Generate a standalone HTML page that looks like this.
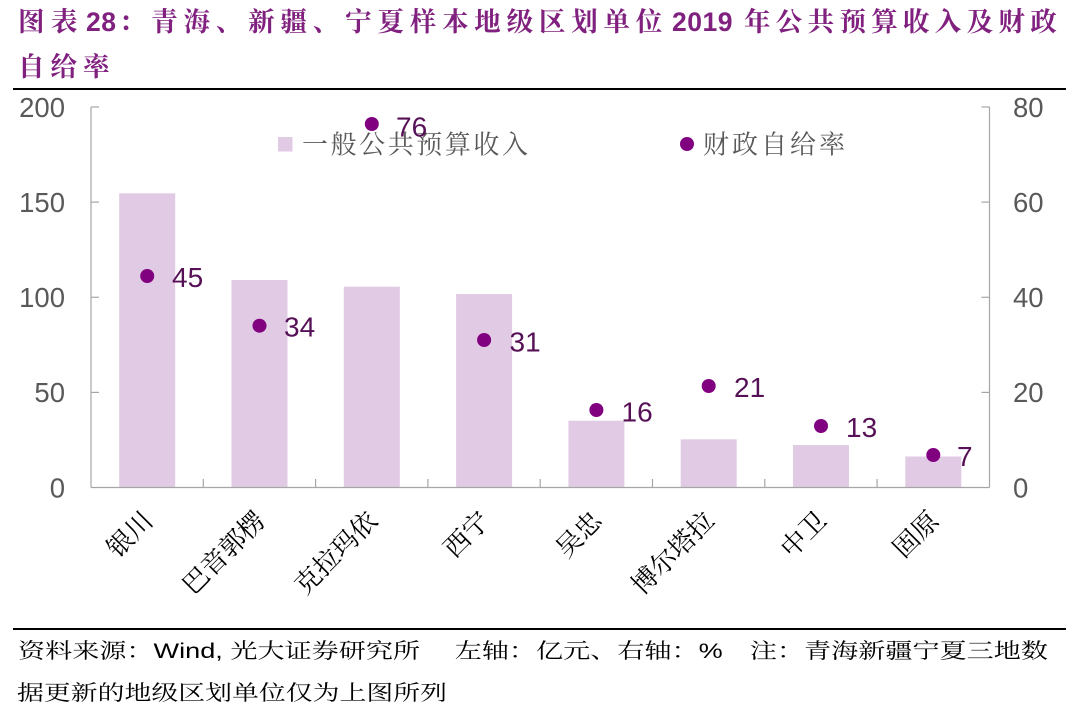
<!DOCTYPE html>
<html>
<head>
<meta charset="utf-8">
<style>
  html, body { margin: 0; padding: 0; background: #ffffff; }
  svg { display: block; }
</style>
</head>
<body>
<svg width="1080" height="719" viewBox="0 0 1080 719" xmlns="http://www.w3.org/2000/svg">
  <rect x="0" y="0" width="1080" height="719" fill="#ffffff"/>

  <!-- Title -->
  <g fill="#80207F" font-family="'Liberation Sans', 'Noto Serif CJK SC', serif" font-weight="bold" font-size="26.5">
    <text y="31"><tspan x="18" letter-spacing="6.5">图表</tspan><tspan x="86" letter-spacing="0.5">28</tspan><tspan x="119" letter-spacing="5.8">：青海、新疆、宁夏样本地级区划单位</tspan><tspan x="672" letter-spacing="0.5">2019</tspan><tspan x="744" letter-spacing="5.3">年公共预算收入及财政</tspan></text>
    <text x="18" y="76" letter-spacing="6">自给率</text>
  </g>
  <line x1="13" y1="89" x2="1066" y2="89" stroke="#000000" stroke-width="2"/>

  <!-- Bars -->
  <g fill="#E1CAE4">
    <rect x="119.2" y="193.3" width="56" height="294.2"/>
    <rect x="231.5" y="280" width="56" height="207.5"/>
    <rect x="343.8" y="286.7" width="56" height="200.8"/>
    <rect x="456.1" y="294" width="56" height="193.5"/>
    <rect x="568.4" y="420.7" width="56" height="66.8"/>
    <rect x="680.7" y="439.3" width="56" height="48.2"/>
    <rect x="793.0" y="445" width="56" height="42.5"/>
    <rect x="905.3" y="456.5" width="56" height="31"/>
  </g>

  <!-- Axes -->
  <g stroke="#A6A6A6" stroke-width="1.2" fill="none">
    <line x1="91" y1="107" x2="91" y2="487.5"/>
    <line x1="989.5" y1="107" x2="989.5" y2="487.5"/>
    <line x1="91" y1="487.5" x2="989.5" y2="487.5"/>
    <line x1="91" y1="107" x2="99" y2="107"/>
    <line x1="91" y1="202.1" x2="99" y2="202.1"/>
    <line x1="91" y1="297.3" x2="99" y2="297.3"/>
    <line x1="91" y1="392.4" x2="99" y2="392.4"/>
    <line x1="981.5" y1="107" x2="989.5" y2="107"/>
    <line x1="981.5" y1="202.1" x2="989.5" y2="202.1"/>
    <line x1="981.5" y1="297.3" x2="989.5" y2="297.3"/>
    <line x1="981.5" y1="392.4" x2="989.5" y2="392.4"/>
    <line x1="203.3" y1="479" x2="203.3" y2="487.5"/>
    <line x1="315.6" y1="479" x2="315.6" y2="487.5"/>
    <line x1="427.9" y1="479" x2="427.9" y2="487.5"/>
    <line x1="540.2" y1="479" x2="540.2" y2="487.5"/>
    <line x1="652.5" y1="479" x2="652.5" y2="487.5"/>
    <line x1="764.8" y1="479" x2="764.8" y2="487.5"/>
    <line x1="877.1" y1="479" x2="877.1" y2="487.5"/>
  </g>

  <!-- Left axis labels -->
  <g fill="#595959" font-family="'Liberation Sans', Arial, sans-serif" font-size="27.5" text-anchor="end">
    <text x="65" y="116.8">200</text>
    <text x="65" y="211.9">150</text>
    <text x="65" y="307.1">100</text>
    <text x="65" y="402.2">50</text>
    <text x="65" y="497.3">0</text>
  </g>
  <!-- Right axis labels -->
  <g fill="#595959" font-family="'Liberation Sans', Arial, sans-serif" font-size="27.5" text-anchor="start">
    <text x="1013" y="116.8">80</text>
    <text x="1013" y="211.9">60</text>
    <text x="1013" y="307.1">40</text>
    <text x="1013" y="402.2">20</text>
    <text x="1013" y="497.3">0</text>
  </g>

  <!-- Legend -->
  <rect x="278" y="137" width="14.5" height="14.5" fill="#E1CAE4"/>
  <text x="302" y="153.5" textLength="226" lengthAdjust="spacing" fill="#595959" font-family="'Liberation Serif', 'Noto Serif CJK SC', serif" font-size="26">一般公共预算收入</text>
  <circle cx="687" cy="144" r="7" fill="#800080"/>
  <text x="703" y="153.5" textLength="142" lengthAdjust="spacing" fill="#595959" font-family="'Liberation Serif', 'Noto Serif CJK SC', serif" font-size="26">财政自给率</text>

  <!-- Dots -->
  <g fill="#800080">
    <circle cx="147.2" cy="276" r="7"/>
    <circle cx="259.5" cy="325.7" r="7"/>
    <circle cx="371.8" cy="124" r="7"/>
    <circle cx="484.1" cy="340" r="7"/>
    <circle cx="596.4" cy="410" r="7"/>
    <circle cx="708.7" cy="386" r="7"/>
    <circle cx="821.0" cy="426" r="7"/>
    <circle cx="933.3" cy="455" r="7"/>
  </g>

  <!-- Data labels -->
  <g fill="#561056" font-family="'Liberation Sans', Arial, sans-serif" font-size="28">
    <text x="172" y="287">45</text>
    <text x="284" y="336.5">34</text>
    <text x="396" y="136.5">76</text>
    <text x="509.5" y="351.5">31</text>
    <text x="621.5" y="421.5">16</text>
    <text x="734" y="397">21</text>
    <text x="846" y="437">13</text>
    <text x="957" y="466">7</text>
  </g>

  <!-- X axis labels (rotated) -->
  <g fill="#000000" font-family="'Liberation Serif', 'Noto Serif CJK SC', serif" font-size="26" text-anchor="end">
    <text transform="translate(148,516) rotate(-45)" y="9">银川</text>
    <text transform="translate(260.3,516) rotate(-45)" y="9">巴音郭楞</text>
    <text transform="translate(372.6,516) rotate(-45)" y="9">克拉玛依</text>
    <text transform="translate(484.9,516) rotate(-45)" y="9">西宁</text>
    <text transform="translate(597.2,516) rotate(-45)" y="9">吴忠</text>
    <text transform="translate(709.5,516) rotate(-45)" y="9">博尔塔拉</text>
    <text transform="translate(821.8,516) rotate(-45)" y="9">中卫</text>
    <text transform="translate(934.1,516) rotate(-45)" y="9">固原</text>
  </g>

  <!-- Footer -->
  <line x1="13" y1="629" x2="1066" y2="629" stroke="#000000" stroke-width="2"/>
  <g fill="#000000" font-family="'Liberation Sans', 'Noto Serif CJK SC', serif" font-size="21">
    <text x="18" y="658" textLength="1030" lengthAdjust="spacingAndGlyphs">资料来源：Wind, 光大证券研究所　 左轴：亿元、右轴：%　注：青海新疆宁夏三地数</text>
    <text x="17" y="700" textLength="430" lengthAdjust="spacingAndGlyphs">据更新的地级区划单位仅为上图所列</text>
  </g>
</svg>
</body>
</html>
